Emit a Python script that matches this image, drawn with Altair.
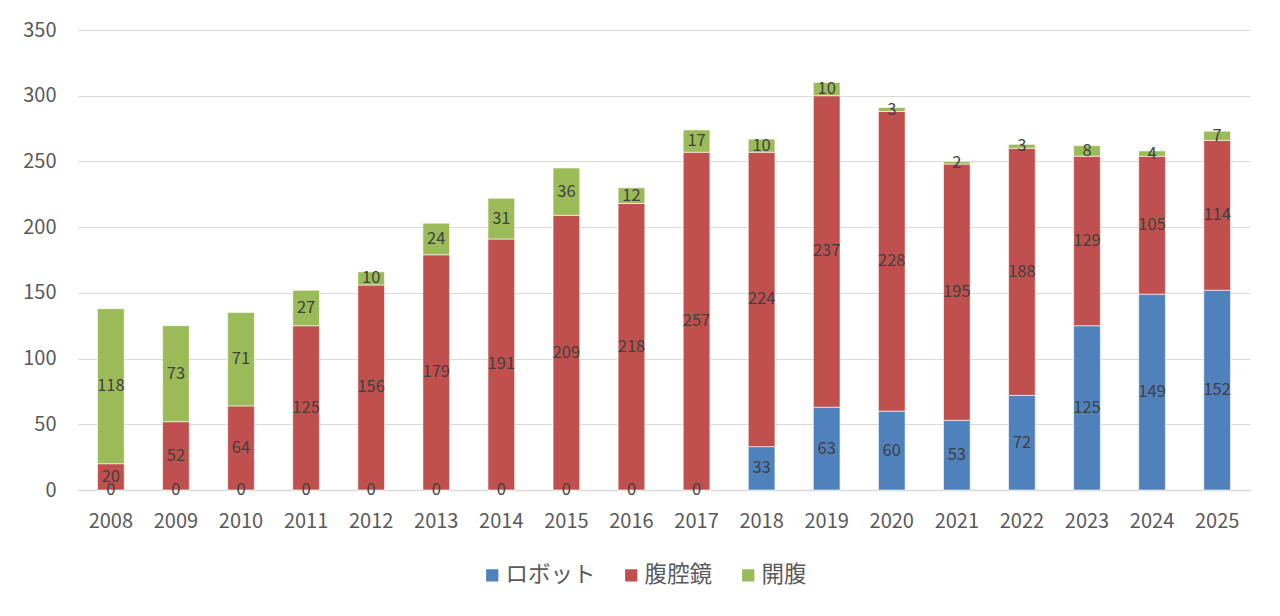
import altair as alt
import pandas as pd

years = [str(y) for y in range(2008, 2026)]
series = ["ロボット", "腹腔鏡", "開腹"]
robot = [0, 0, 0, 0, 0, 0, 0, 0, 0, 0, 33, 63, 60, 53, 72, 125, 149, 152]
lap = [20, 52, 64, 125, 156, 179, 191, 209, 218, 257, 224, 237, 228, 195, 188, 129, 105, 114]
open_ = [118, 73, 71, 27, 10, 24, 31, 36, 12, 17, 10, 10, 3, 2, 3, 8, 4, 7]
colors = ["#4F81BD", "#C0504D", "#9BBB59"]

rows = []
for i, y in enumerate(years):
    for k, (s, vals) in enumerate(zip(series, [robot, lap, open_])):
        rows.append({"year": y, "series": s, "value": vals[i], "order": k})
df = pd.DataFrame(rows)

font = "Noto Sans CJK JP"

base = alt.Chart(df).transform_stack(
    stack="value", groupby=["year"], as_=["y0", "y1"], sort=[alt.SortField("order", order="ascending")]
).transform_calculate(mid="(datum.y0 + datum.y1) / 2")

x = alt.X("year:N", title=None, sort=years,
          scale=alt.Scale(paddingInner=0.59, paddingOuter=0.3),
          axis=alt.Axis(labelAngle=0, labelFontSize=20, labelColor="#595959", labelFont=font,
                        ticks=False, domainColor="#d9d9d9", domainWidth=1.3, labelPadding=21, grid=False))

bars = base.mark_bar(stroke="white", strokeWidth=0.6).encode(
    x=x,
    y=alt.Y("y0:Q", title=None, scale=alt.Scale(domain=[0, 350]),
            axis=alt.Axis(values=list(range(0, 351, 50)), labelFontSize=20, labelColor="#595959",
                          labelFont=font, ticks=False, domain=False, gridColor="#d9d9d9",
                          labelPadding=22)),
    y2="y1:Q",
    color=alt.Color("series:N", scale=alt.Scale(domain=series, range=colors),
                    legend=alt.Legend(title=None, orient="none", direction="horizontal",
                                      legendX=403, legendY=534, labelFontSize=22.5, labelFont=font,
                                      labelColor="#595959", symbolType="square", symbolSize=150,
                                      symbolStrokeWidth=0, columnPadding=24, labelOffset=2)),
)

labels = base.mark_text(fontSize=16.5, color="#404040", font=font, baseline="middle").encode(
    x=alt.X("year:N", sort=years),
    y=alt.Y("mid:Q"),
    text="value:Q",
)

chart = alt.layer(bars, labels).properties(
    width=1172, height=460,
    autosize=alt.AutoSizeParams(type="none"),
    padding={"left": 70, "top": 22, "right": 22, "bottom": 110},
    background="white",
).configure_view(stroke=None)

chart.save("out.html", embed_options={"renderer": "svg", "actions": False})
